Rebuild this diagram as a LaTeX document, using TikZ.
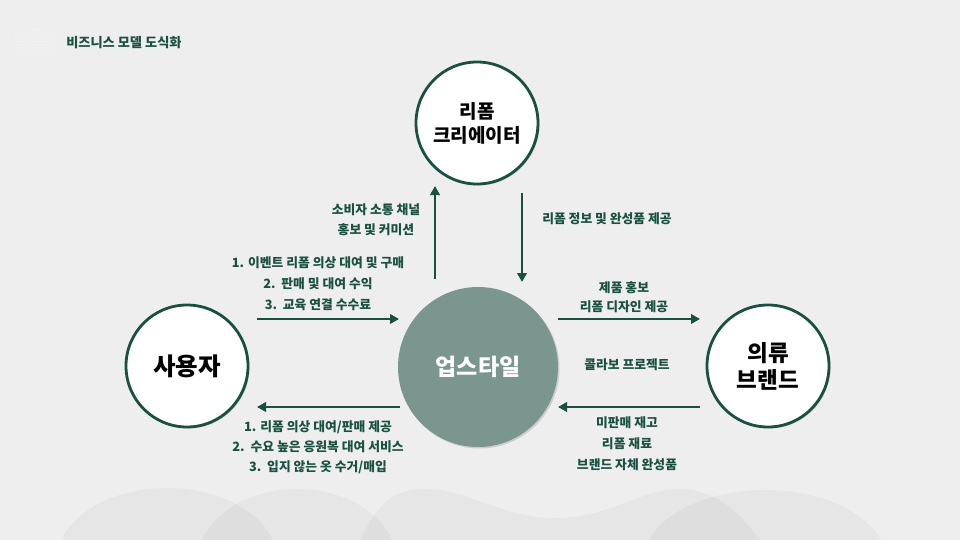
\documentclass[tikz,border=0pt]{standalone}
\usepackage{fontspec}
\setmainfont{Noto Sans CJK KR}
\usetikzlibrary{arrows.meta,shadows,patterns}

\definecolor{bgc}{HTML}{EEEEEE}
\definecolor{ink}{HTML}{1A5041}
\definecolor{sage}{HTML}{7B968E}

\begin{document}
\begin{tikzpicture}[x=1pt,y=-1pt,line width=0.5pt]

  \tikzset{
    actor/.style = {circle, draw=ink, line width=2.8pt, fill=white,
                    minimum size=122pt, inner sep=0pt, align=center,
                    drop shadow={shadow xshift=1.5pt, shadow yshift=-1.5pt,
                                 opacity=0.3}},
    hub/.style   = {circle, fill=sage, minimum size=160pt, inner sep=0pt,
                    text=white, font=\bfseries\fontsize{23}{28}\selectfont,
                    drop shadow={shadow xshift=1.5pt, shadow yshift=-1.5pt,
                                 opacity=0.3}},
    lbl/.style   = {text=ink, align=center, inner sep=0pt,
                    font=\bfseries\fontsize{12.8}{21}\selectfont},
    flow/.style  = {draw=ink, line width=2.9pt,
                    -{Triangle[length=9pt,width=9.5pt]}},
    hill/.style  = {fill=black, opacity=0.032},
  }

  % ---- page -------------------------------------------------------------
  \fill[bgc] (0,0) rectangle (960,540);
  \useasboundingbox (0,0) rectangle (960,540);

  \begin{scope}
    \clip (0,0) rectangle (960,540);
    \fill[hill] (167,562) ellipse [x radius=111pt, y radius=74pt];
    \fill[hill] (297,563) ellipse [x radius=100pt, y radius=74pt];
    \fill[hill] (360,540) .. controls (380,500) and (395,489) .. (425,489)
                .. controls (470,489) and (500,518) .. (555,518)
                .. controls (610,518) and (640,489) .. (680,489)
                .. controls (720,489) and (745,520) .. (760,540) -- cycle;
    \fill[hill] (765,562) ellipse [x radius=122pt, y radius=72pt];
  \end{scope}

  \fill[pattern=dots, pattern color=white] (15,30) rectangle (55,55);
  \node[anchor=west, text=ink, inner sep=0pt,
        font=\bfseries\fontsize{13.2}{15}\selectfont] (title) at (66,43)
    {비즈니스 모델 도식화};

  % ---- the four parties -------------------------------------------------
  \node[actor, font=\bfseries\fontsize{19}{24}\selectfont]
    (creator) at (477,123) {리폼\\크리에이터};
  \node[actor, font=\bfseries\fontsize{24.5}{28}\selectfont]
    (user) at (187,366) {사용자};
  \node[actor, font=\bfseries\fontsize{22.5}{27}\selectfont]
    (brand) at (768,366) {의류\\브랜드};
  \node[hub] (upstyle) at (478,367) {업스타일};

  % ---- flows ------------------------------------------------------------
  \coordinate (upA) at (435,279);  \coordinate (upB) at (435,186);
  \coordinate (dnA) at (522,193);  \coordinate (dnB) at (522,282);
  \coordinate (urA) at (257,319);  \coordinate (urB) at (399,319);
  \coordinate (brA) at (558,319);  \coordinate (brB) at (700,319);
  \coordinate (blA) at (700,407);  \coordinate (blB) at (558,407);
  \coordinate (ulA) at (400,407);  \coordinate (ulB) at (257,407);

  \foreach \a/\b in {upA/upB, dnA/dnB, urA/urB, brA/brB, blA/blB, ulA/ulB}
    \draw[flow] (\a) -- (\b);

  % ---- what moves along them --------------------------------------------
  \node[lbl, font=\bfseries\fontsize{12.8}{20}\selectfont] (chan) at (376,220)
    {소비자 소통 채널\\홍보 및 커미션};
  \node[lbl] (income) at (318,284)
    {1. 이벤트 리폼 의상 대여 및 구매\\2.~~판매 및 대여 수익\\3.~~교육 연결 수수료};
  \node[lbl] (info) at (607,219) {리폼 정보 및 완성품 제공};
  \node[lbl, font=\bfseries\fontsize{12.8}{19.5}\selectfont] (promo) at (624,297)
    {제품 홍보\\리폼 디자인 제공};
  \node[lbl] (collab) at (627,365) {콜라보 프로젝트};
  \node[lbl] (supply) at (627,444)
    {미판매 재고\\리폼 재료\\브랜드 자체 완성품};
  \node[lbl, font=\bfseries\fontsize{12.8}{20}\selectfont] (service) at (318,447)
    {1. 리폼 의상 대여/판매 제공\\2.~~수요 높은 응원복 대여 서비스\\3.~~입지 않는 옷 수거/매입};

\end{tikzpicture}
\end{document}
